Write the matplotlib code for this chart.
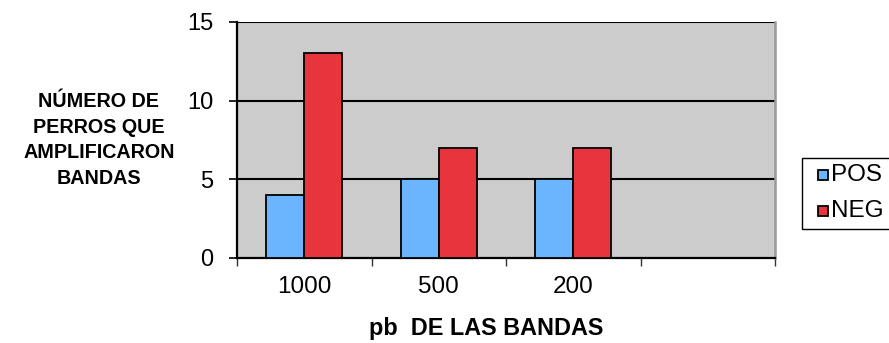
import matplotlib
matplotlib.use("Agg")
import matplotlib.pyplot as plt
from matplotlib.patches import Rectangle
import numpy as np

plt.rcParams['font.family'] = ['Liberation Sans', 'DejaVu Sans']

categories = ["1000", "500", "200", ""]
pos_values = [4, 5, 5]
neg_values = [13, 7, 7]
series_names = ["POS", "NEG"]
y_ticks = [0, 5, 10, 15]

blue = "#6BB5FF"
red = "#E8343C"
plot_bg = "#CCCCCC"
W, H = 889, 343

fig = plt.figure(figsize=(W/100, H/100), dpi=100)
ax = fig.add_axes([237/W, 1 - 258/H, (775 - 237)/W, (258 - 22)/H])
ax.set_facecolor(plot_bg)

n = len(categories)
centers = np.arange(n) + 0.5
w = 0.284
ax.bar(centers[:len(pos_values)] - w/2, pos_values, width=w, color=blue,
       edgecolor="black", linewidth=1.3, zorder=3)
ax.bar(centers[:len(neg_values)] + w/2, neg_values, width=w, color=red,
       edgecolor="black", linewidth=1.3, zorder=3)

ax.set_xlim(0, n)
ax.set_ylim(0, 15)
ax.set_yticks(y_ticks)
ax.set_yticklabels([str(t) for t in y_ticks], fontsize=17)
ax.set_xticks(centers)
ax.set_xticklabels(categories, fontsize=17.5)
ax.tick_params(axis='x', which='major', length=0, pad=13)
ax.set_xticks(np.arange(n + 1), minor=True)
ax.tick_params(axis='x', which='minor', length=6, width=1.0, color="#333333")
ax.tick_params(axis='y', length=6, width=1.2, pad=11)

for y in y_ticks[1:]:
    ax.axhline(y, color="black", linewidth=1.5, zorder=2)

ax.spines["top"].set_visible(False)
ax.spines["left"].set_linewidth(1.6)
ax.spines["bottom"].set_linewidth(1.6)
ax.spines["right"].set_color("#999999")
ax.spines["right"].set_linewidth(1.8)

fig.text(99/W, 1 - 140/H, "NÚMERO DE\nPERROS QUE\nAMPLIFICARON\nBANDAS",
         ha="center", va="center", fontsize=14.2, fontweight="bold", linespacing=1.45)
fig.text(486/W, 1 - 329/H, "pb  DE LAS BANDAS",
         ha="center", va="center", fontsize=16.8, fontweight="bold")

# legend box, running off the right edge of the figure
fig.patches.append(Rectangle((802/W, 1 - 229/H), 100/W, (229 - 158)/H,
                             transform=fig.transFigure, facecolor="white",
                             edgecolor="black", linewidth=1.0))
for name, color, yc in zip(series_names, [blue, red], [175, 211]):
    fig.patches.append(Rectangle((818/W, 1 - (yc + 5)/H), 10/W, 10/H,
                                 transform=fig.transFigure, facecolor=color,
                                 edgecolor="black", linewidth=1.3))
    fig.text(831/W, 1 - yc/H, name, ha="left", va="center", fontsize=17.5)

fig.savefig("out.png", dpi=100)
